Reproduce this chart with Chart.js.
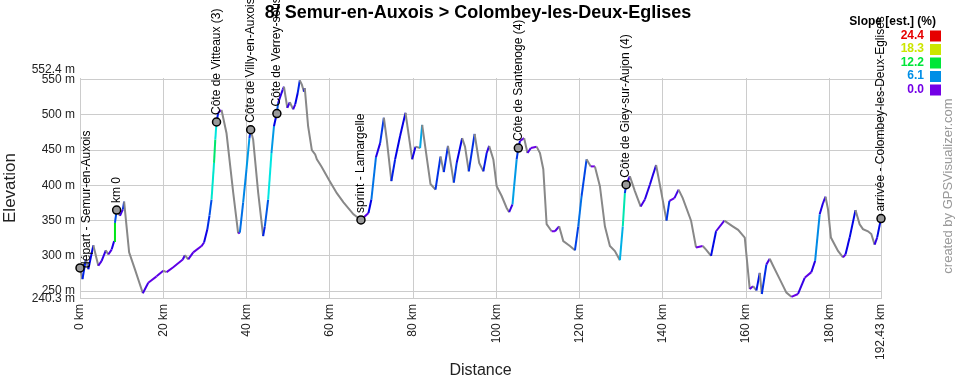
<!DOCTYPE html>
<html>
<head>
<meta charset="utf-8">
<script src="https://cdn.jsdelivr.net/npm/chart.js@4"></script>
<style>
  html, body { margin: 0; padding: 0; background: #fff; }
  #wrap { width: 960px; height: 380px; position: relative; }
</style>
</head>
<body>
<div id="wrap"><canvas id="profil"></canvas></div>
<script>
// === Daten: Profil (km / m) ===
const distKm = [0, 0.6, 1.4, 2.0, 3.2, 4.4, 5.2, 6.2, 6.8, 7.6, 8.2, 8.4, 8.8, 9.6, 10.3, 10.6, 11.0, 11.8, 13.2, 15.1,
  16.4, 18.4, 20.0, 20.8, 22.4, 24.7, 25.2, 26.0, 27.2, 29.2, 29.8, 30.6, 31.1, 31.6, 32.2, 32.5, 32.8, 33.2, 34.0, 35.2,
  36.8, 38.0, 38.4, 39.2, 40.0, 40.7, 41.0, 41.6, 42.8, 44.0, 44.4, 45.2, 46.0, 46.6, 47.3, 47.6, 48.7, 49.0, 49.8, 50.4,
  51.2, 51.7, 52.3, 52.8, 53.3, 53.8, 54.0, 54.8, 55.7, 56.5, 56.9, 58.0, 60.0, 61.7, 63.3, 65.7, 67.5, 69.3, 70.0, 71.1,
  72.1, 73.0, 73.7, 74.8, 75.7, 76.9, 78.2, 79.8, 80.6, 81.7, 82.2, 84.2, 85.4, 86.6, 87.4, 88.4, 89.8, 90.5, 91.8, 92.5,
  93.4, 94.8, 95.9, 96.9, 97.7, 98.3, 99.3, 100.1, 101.3, 102.5, 103.1, 103.9, 104.3, 104.9, 105.3, 105.7, 106.7, 107.5, 108.3, 109.7,
  110.5, 111.3, 112.1, 113.3, 114.1, 115.1, 116.1, 117.7, 118.9, 119.7, 120.5, 121.7, 122.7, 123.7, 124.9, 126.1, 127.3, 128.5, 129.7, 130.4,
  130.9, 131.2, 132.1, 133.3, 134.7, 135.7, 136.9, 138.4, 139.6, 140.9, 141.6, 142.8, 143.8, 144.8, 146.8, 148.0, 149.6, 150.4, 151.6, 152.8,
  154.8, 156.8, 158.1, 159.7, 160.9, 161.7, 162.5, 163.3, 163.8, 164.9, 165.7, 166.5, 168.1, 169.7, 170.9, 172.5, 174.1, 175.7, 176.6, 177.7,
  178.5, 179.1, 179.7, 180.4, 182.1, 183.3, 183.9, 184.9, 186.3, 187.3, 188.1, 189.3, 190.1, 190.9, 191.5, 192.43];
const elevM = [283, 267, 295, 281, 315, 286, 293, 308, 302, 309, 321, 347, 365, 357, 366, 377, 353, 305, 281, 247,
  262, 271, 279, 277, 284, 295, 301, 295, 305, 314, 319, 338, 357, 380, 432, 465, 490, 503, 507, 474,
  390, 332, 333, 376, 423, 467, 479, 465, 390, 328, 342, 380, 446, 484, 503, 517, 536, 540, 510, 518,
  508, 515, 531, 549, 543, 533, 538, 484, 450, 444, 437, 427, 406, 389, 376, 359, 351, 361, 380, 440,
  460, 496, 465, 406, 437, 470, 503, 437, 455, 453, 486, 402, 394, 441, 419, 456, 404, 432, 467, 455,
  420, 473, 432, 420, 446, 456, 437, 399, 385, 368, 362, 373, 399, 437, 453, 463, 467, 446, 453, 455,
  446, 423, 345, 335, 335, 342, 321, 314, 308, 342, 385, 437, 427, 427, 399, 342, 314, 307, 294, 342,
  389, 401, 413, 392, 370, 380, 401, 429, 392, 350, 378, 382, 394, 382, 350, 312, 314, 309, 300, 335,
  350, 342, 337, 326, 253, 257, 251, 276, 246, 288, 296, 286, 267, 248, 242, 246, 269, 277, 293, 359,
  375, 384, 366, 326, 307, 298, 302, 326, 365, 345, 338, 335, 331, 316, 326, 353];

// === Wegpunkte ===
const wpNames = ['départ - Semur-en-Auxois', 'km 0', 'Côte de Vitteaux (3)', 'Côte de Villy-en-Auxois',
  'Côte de Verrey-sous-Salmaise', 'sprint - Lamargelle', 'Côte de Santenoge (4)', 'Côte de Giey-sur-Aujon (4)',
  'arrivée - Colombey-les-Deux-Eglises'];
const wpKm = [0, 8.8, 32.8, 41.0, 47.3, 67.5, 105.3, 131.2, 192.43];
const wpElev = [283, 365, 490, 479, 502, 351, 453, 401, 353];

// === Achsen ===
const xTicks = [0, 20, 40, 60, 80, 100, 120, 140, 160, 180, 192.43];
const yTicks = [250, 300, 350, 400, 450, 500, 550];
const yMin = 240.3, yMax = 552.4;

// === Steigungs-Legende ===
const slopeSteps = [24.4, 18.3, 12.2, 6.1, 0.0];
const slopeMax = 24.4;

const FONT = "'Liberation Sans', Arial, sans-serif";

function slopeColor(pct) {
    if (pct < 0) return '#888888';
    const hue = 270 - Math.min(pct, slopeMax) / slopeMax * 270;
    return 'hsl(' + hue.toFixed(0) + ', 100%, 45%)';
}

// Titel, Legende, Beschriftungen
const extras = {
    id: 'extras',
    afterDraw(chart) {
        const ctx = chart.ctx;
        const xs = chart.scales.x, ys = chart.scales.y;
        const area = chart.chartArea;
        ctx.save();

        // Titel
        ctx.fillStyle = '#000';
        ctx.font = 'bold 18px ' + FONT;
        ctx.textAlign = 'center';
        ctx.textBaseline = 'middle';
        ctx.fillText('8/ Semur-en-Auxois > Colombey-les-Deux-Eglises', 478, 13);

        // Extrem-Werte der y-Achse
        ctx.font = '12px ' + FONT;
        ctx.textAlign = 'right';
        ctx.fillStyle = '#222';
        ctx.fillText(yMax + ' m', 75, 70);
        ctx.fillText(yMin + ' m', 75, 299);

        // Wegpunkt-Beschriftungen
        ctx.font = '12px ' + FONT;
        ctx.fillStyle = '#000';
        wpNames.forEach((name, i) => {
            const px = xs.getPixelForValue(wpKm[i]);
            const py = ys.getPixelForValue(wpElev[i]);
            let tx = px, ty = py - 7;
            if (px - 6 < area.left) { tx = px + 7; ty = py; }
            ctx.save();
            ctx.translate(tx, ty);
            ctx.rotate(-Math.PI / 2);
            ctx.textAlign = 'left';
            ctx.textBaseline = 'middle';
            ctx.fillText(name, 0, 0);
            ctx.restore();
        });

        // Legende
        ctx.font = 'bold 12px ' + FONT;
        ctx.textAlign = 'right';
        ctx.textBaseline = 'middle';
        ctx.fillStyle = '#000';
        ctx.fillText('Slope [est.] (%)', 936, 22);
        slopeSteps.forEach((s, i) => {
            const y = 35.5 + i * 13.5;
            ctx.fillStyle = slopeColor(s);
            ctx.fillText(s.toFixed(1), 924, y);
            ctx.fillRect(930, y - 5, 11, 11);
        });

        // Quelle
        ctx.save();
        ctx.translate(948, 186);
        ctx.rotate(-Math.PI / 2);
        ctx.font = '13px ' + FONT;
        ctx.fillStyle = '#999';
        ctx.textAlign = 'center';
        ctx.textBaseline = 'middle';
        ctx.fillText('created by GPSVisualizer.com', 0, 0);
        ctx.restore();

        ctx.restore();
    }
};

const profilData = distKm.map((d, i) => ({ x: d, y: elevM[i] }));
const wpData = wpKm.map((d, i) => ({ x: d, y: wpElev[i] }));

new Chart(document.getElementById('profil'), {
    type: 'line',
    data: {
        datasets: [
            {
                type: 'scatter',
                data: wpData,
                pointRadius: 4,
                pointBackgroundColor: '#999',
                pointBorderColor: '#000',
                pointBorderWidth: 1.5,
                clip: false
            },
            {
                data: profilData,
                borderWidth: 2,
                pointRadius: 0,
                borderColor: '#888',
                tension: 0,
                segment: {
                    borderColor: c => {
                        const dx = (c.p1.parsed.x - c.p0.parsed.x) * 1000;
                        const dy = c.p1.parsed.y - c.p0.parsed.y;
                        return slopeColor(dx > 0 ? dy / dx * 100 : -1);
                    }
                }
            }
        ]
    },
    options: {
        responsive: true,
        maintainAspectRatio: false,
        animation: false,
        events: [],
        layout: { padding: { top: 78, right: 79, left: 0, bottom: 0 } },
        plugins: {
            legend: { display: false },
            title: { display: false },
            tooltip: { enabled: false }
        },
        scales: {
            x: {
                type: 'linear',
                min: 0,
                max: 192.43,
                afterBuildTicks: s => { s.ticks = xTicks.map(v => ({ value: v })); },
                afterFit: s => { s.height = 82; },
                grid: { color: '#cccccc', drawTicks: false },
                border: { color: '#cccccc' },
                ticks: {
                    autoSkip: false,
                    minRotation: 90,
                    maxRotation: 90,
                    padding: 6,
                    color: '#222',
                    font: { family: FONT, size: 12 },
                    callback: v => v + ' km'
                },
                title: {
                    display: true,
                    text: 'Distance',
                    color: '#222',
                    padding: { top: 0, bottom: 0 },
                    font: { family: FONT, size: 16 }
                }
            },
            y: {
                min: yMin,
                max: yMax,
                afterBuildTicks: s => { s.ticks = yTicks.map(v => ({ value: v })); },
                afterFit: s => { s.width = 80; },
                grid: { color: '#cccccc', drawTicks: false },
                border: { color: '#cccccc' },
                ticks: {
                    padding: 5,
                    color: '#222',
                    font: { family: FONT, size: 12 },
                    callback: v => v + ' m'
                },
                title: {
                    display: true,
                    text: 'Elevation',
                    color: '#222',
                    padding: { top: 0, bottom: 0 },
                    font: { family: FONT, size: 17 }
                }
            }
        }
    },
    plugins: [extras]
});
</script>
</body>
</html>
